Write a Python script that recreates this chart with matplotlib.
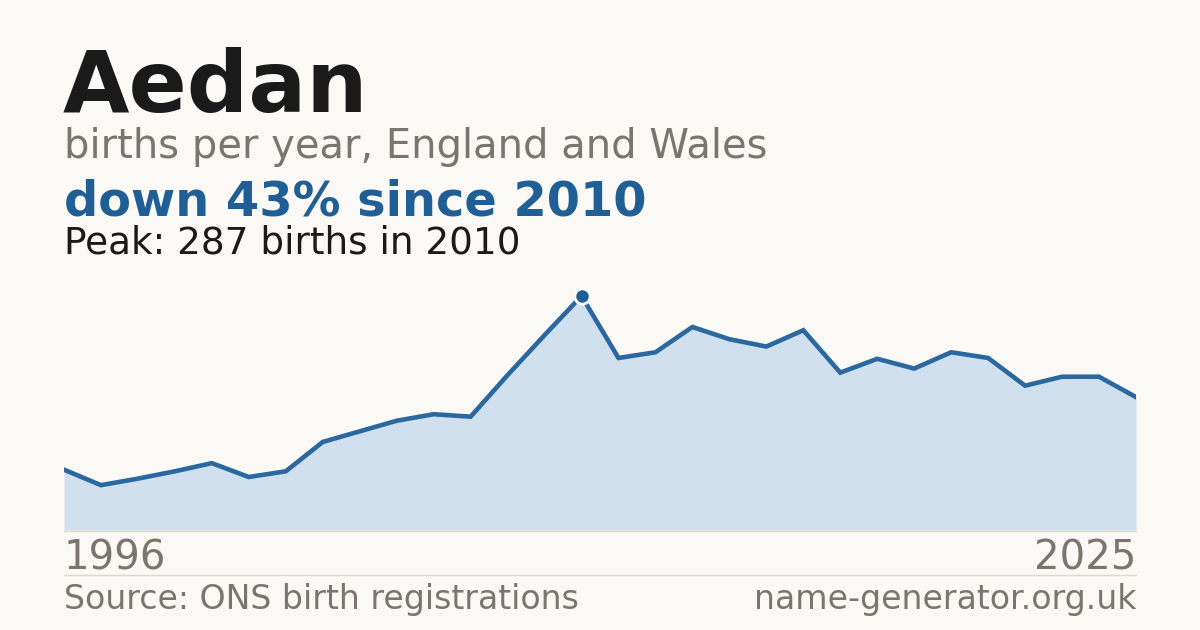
import matplotlib
matplotlib.use("Agg")
import matplotlib.pyplot as plt
from matplotlib.lines import Line2D

plt.rcParams['font.family'] = ['DejaVu Sans']

years = list(range(1996, 2026))
births = [74, 55, 63, 72, 82, 65, 72, 108, 121, 134, 142, 139, 190, 239, 287,
          211, 218, 249, 234, 225, 245, 193, 210, 198, 218, 211, 177, 188, 188, 163]

title = "Aedan"
subtitle = "births per year, England and Wales"
headline = "down 43% since 2010"
peak_text = "Peak: 287 births in 2010"
source = "Source: ONS birth registrations"
site = "name-generator.org.uk"

BG = "#faf9f5"
BLUE = "#1f5f96"
LINE = "#2b68a0"
FILL = "#d0e0ef"
GRAY = "#7a766f"
DARK = "#1a1a1a"
RULE = "#ddd8cf"

W, H = 1200, 630
fig = plt.figure(figsize=(W / 100, H / 100), dpi=100, facecolor=BG)

def fx(px):
    return px / W

def fy(py):
    return 1 - py / H

ymax = 320
scale = (530 - 296) / 287
top_px = 530 - ymax * scale
ax = fig.add_axes([fx(64), fy(530), fx(1136 - 64), (530 - top_px) / H])
ax.set_facecolor("none")
ax.fill_between(years, births, 0, color=FILL, lw=0)
ax.plot(years, births, color=LINE, lw=3.3, solid_joinstyle="miter")
pk = births.index(max(births))
ax.plot([years[pk]], [births[pk]], marker="o", ms=11, color=BLUE,
        mec="white", mew=2, clip_on=False, zorder=5)
ax.set_xlim(years[0], years[-1])
ax.set_ylim(0, ymax)
ax.axis("off")

# rules
fig.add_artist(Line2D([fx(64), fx(1136)], [fy(530.5), fy(530.5)], color=RULE, lw=1))
fig.add_artist(Line2D([fx(64), fx(1136)], [fy(574.5), fy(574.5)], color=RULE, lw=1))

fig.text(fx(63), fy(112), title, fontsize=61.8, fontweight="bold", color=DARK, va="baseline")
fig.text(fx(64), fy(158), subtitle, fontsize=28.8, color=GRAY, va="baseline")
fig.text(fx(64), fy(215), headline, fontsize=34.5, fontweight="bold", color=BLUE, va="baseline")
fig.text(fx(64), fy(253), peak_text, fontsize=26.9, color=DARK, va="baseline")
fig.text(fx(64), fy(570), str(years[0]), fontsize=29, color=GRAY, va="baseline")
fig.text(fx(1136), fy(570), str(years[-1]), fontsize=29, color=GRAY, va="baseline", ha="right")
fig.text(fx(64), fy(609), source, fontsize=23.9, color=GRAY, va="baseline")
fig.text(fx(1136), fy(609), site, fontsize=23.9, color=GRAY, va="baseline", ha="right")

fig.savefig("out.png", dpi=100, facecolor=BG)
